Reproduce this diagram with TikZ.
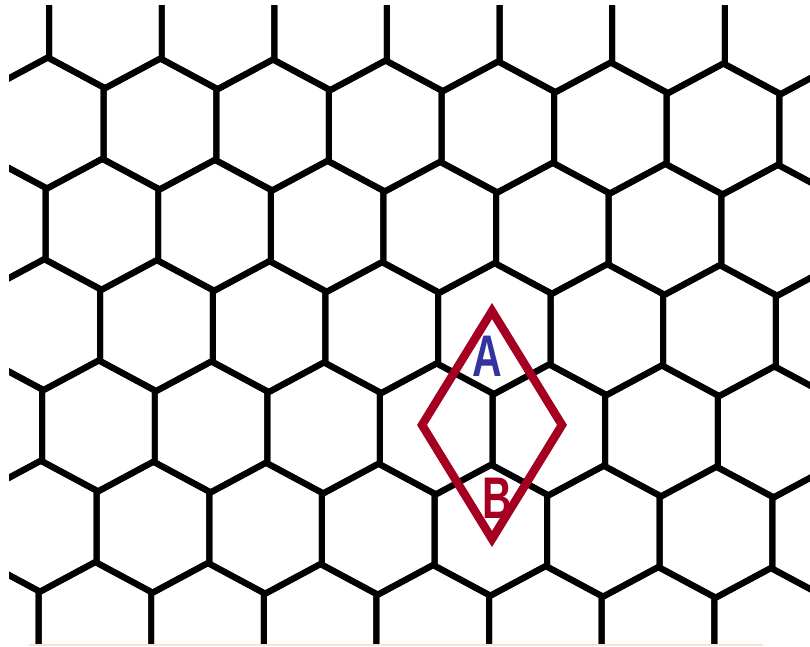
\documentclass[tikz,border=0pt]{standalone}
\usepackage{fontspec}
\usepackage{graphicx}
\setmainfont{Liberation Sans}
\definecolor{cellred}{RGB}{165,0,33}
\definecolor{labelblue}{RGB}{50,50,160}
\definecolor{scanline}{RGB}{250,226,206}
\tikzset{
  hexedge/.style={draw=black, line width=1.7pt, line join=round},
  cellline/.style={draw=cellred, line width=2.4pt, line join=miter},
  letter/.style={inner sep=0pt, font=\fontsize{16.7}{18}\selectfont\bfseries}
}
\begin{document}
\begin{tikzpicture}[x=0.01cm, y=-0.01cm]
\useasboundingbox (0,0) rectangle (810,646);
\fill[white] (0,0) rectangle (810,646);
\begin{scope}
  \clip (9,6) rectangle (810,643);
  \foreach \row in {0,...,6} {
    \foreach \col in {-1,...,6} {
      \pgfmathsetmacro{\cu}{112.6*\col - 56.3*mod(\row+1,2)}
      \pgfmathsetmacro{\cx}{160 + \cu - 1.75*(\row-1)}
      \pgfmathsetmacro{\cy}{124 + 100.8*(\row-1) + \cu/112.6}
      \draw[hexedge] (\cx,\cy) ++(0,-65.5) -- ++(56.3,30.2) -- ++(0,70.6)
        -- ++(-56.3,30.2) -- ++(-56.3,-30.2) -- ++(0,-70.6) -- cycle;
    }
  }
\end{scope}
\draw[scanline, line width=0.45pt] (29,645) -- (763,645);
\coordinate (dT) at (492,311);
\coordinate (dR) at (562,425);
\coordinate (dB) at (492,539);
\coordinate (dL) at (422,425);
\draw[cellline] (dT) -- (dR) -- (dB) -- (dL) -- cycle;
\node[letter, text=labelblue] (labA) at (487,356) {\scalebox{0.7}[1]{A}};
\node[letter, text=cellred] (labB) at (497,498) {\scalebox{0.7}[1]{B}};
\end{tikzpicture}
\end{document}
